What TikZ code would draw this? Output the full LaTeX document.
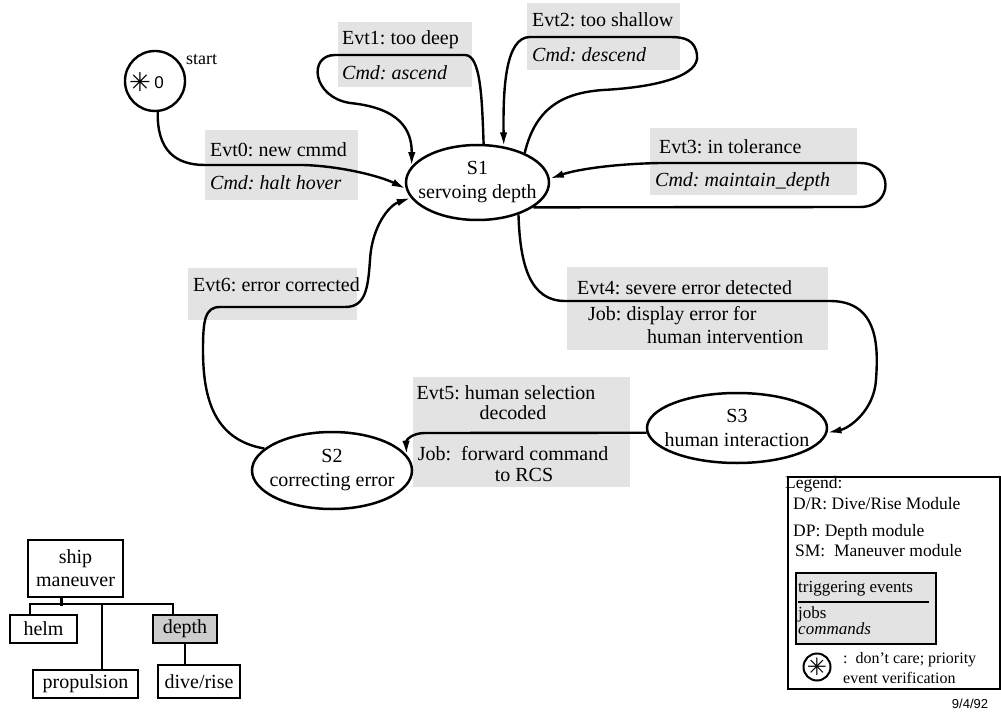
\documentclass[tikz,border=0pt]{standalone}
\usepackage{fontspec}
\setmainfont{Liberation Serif}
\newfontfamily\symfont{DejaVu Sans}
\newfontfamily\datefont{Liberation Sans}
\usetikzlibrary{arrows.meta,shapes.geometric,calc}
\frenchspacing

\begin{document}
\begin{tikzpicture}[x=1pt,y=-1pt,
  state/.style={draw,ellipse,line width=2.5pt,inner sep=0pt},
  conn/.style={line width=2.4pt,-{Latex[length=14pt,width=7.5pt]}},
  wire/.style={line width=2.4pt},
  band/.style={fill=gray!22,draw=none,inner sep=0pt,anchor=north west},
  lbl/.style={font=\fontsize{20}{24}\selectfont,inner sep=0pt},
  lbli/.style={font=\fontsize{20}{24}\selectfont\itshape,inner sep=0pt},
  leg/.style={font=\fontsize{17.5}{20}\selectfont,inner sep=0pt,anchor=west},
  tbox/.style={draw,line width=2.5pt,inner sep=0pt,font=\fontsize{20}{23}\selectfont,align=center},
  star/.style={font=\symfont\fontsize{26}{26}\selectfont,inner sep=0pt}
]
\useasboundingbox (0,0) rectangle (1001,714);

% shaded bands behind the transition labels
\node[band,minimum width=153pt,minimum height=70pt] (b0) at (205,130) {};
\node[band,minimum width=134pt,minimum height=65pt] (b1) at (338,22) {};
\node[band,minimum width=153pt,minimum height=67pt] (b2) at (527,3) {};
\node[band,minimum width=207pt,minimum height=67pt] (b3) at (650,128) {};
\node[band,minimum width=261pt,minimum height=83pt] (b4) at (567,267) {};
\node[band,minimum width=217pt,minimum height=110pt] (b5) at (413,377) {};
\node[band,minimum width=169pt,minimum height=52pt] (b6) at (188,268) {};

% states
\node[draw,circle,line width=2.4pt,minimum size=60pt,inner sep=0pt] (st) at (155,81) {};
\node[star] (stx) at (140,82) {✳};
\node[font=\datefont\fontsize{17}{17}\selectfont,inner sep=0pt] (st0) at (159,83) {0};
\node[font=\fontsize{18}{20}\selectfont,inner sep=0pt,anchor=west] (stl) at (186,60) {start};

\node[state,minimum width=143pt,minimum height=75pt] (S1) at (477.5,182.5) {};
\node[lbl,align=center] (S1t) at (S1.center) {S1\\servoing depth};
\node[state,minimum width=160pt,minimum height=77pt] (S2) at (332,470.5) {};
\node[lbl,align=center] (S2t) at (S2.center) {S2\\correcting error};
\node[state,minimum width=180pt,minimum height=70pt] (S3) at (737,428) {};
\node[lbl,align=center] (S3t) at (S3.center) {S3\\human interaction};

% transition labels
\node[lbl,anchor=west] (e0) at (210,150) {Evt0: new cmmd};
\node[lbli,anchor=west] (c0) at (210,183) {Cmd: halt hover};
\node[lbl,anchor=west] (e1) at (342,40) {Evt1: too deep};
\node[lbli,anchor=west] (c1) at (342,73) {Cmd: ascend};
\node[lbl,anchor=west] (e2) at (532,20) {Evt2: too shallow};
\node[lbli,anchor=west] (c2) at (532,55) {Cmd: descend};
\node[lbl,anchor=west] (e3) at (659,147) {Evt3: in tolerance};
\node[lbli,anchor=west] (c3) at (655,182) {Cmd: maintain\_depth};
\node[lbl,anchor=west] (e4) at (577,288) {Evt4: severe error detected};
\node[lbl,anchor=west] (j4a) at (588,316) {Job: display error for};
\node[lbl,anchor=west] (j4b) at (647,337) {human intervention};
\node[lbl] (e5a) at (506,393) {Evt5: human selection};
\node[lbl] (e5b) at (513,413) {decoded};
\node[lbl] (j5a) at (513,454) {Job:~ forward command};
\node[lbl] (j5b) at (524,475) {to RCS};
\node[lbl,anchor=west] (e6) at (193,285) {Evt6: error corrected};

% transitions
\draw[conn] (st.-85) .. controls (157,150) and (175,165) .. (205,165)
  -- (303,165) .. controls (340,166) and (380,176) .. (S1.185);
\draw[conn] (S1.81) .. controls (482,100) and (481,55) .. (465,55)
  -- (335,55) .. controls (308,55) and (312,97) .. (350,103)
  .. controls (400,108) and (412,130) .. (S1.166);
\draw[conn] (S1.32) .. controls (535,110) and (560,93) .. (603,90)
  .. controls (660,87) and (700,75) .. (697,55)
  .. controls (695,40) and (685,37) .. (670,37)
  -- (530,37) .. controls (505,37) and (503,90) .. (S1.54);
\draw[conn] (S1.-24) -- (860,207) .. controls (894,207) and (894,163) .. (860,163)
  -- (660,163) .. controls (610,164) and (575,170) .. (S1.3);
\draw[conn] (S1.-38) .. controls (520,265) and (530,301) .. (565,301)
  -- (830,301) .. controls (880,301) and (878,350) .. (876,380)
  .. controls (874,410) and (850,428) .. (S3.-3);
\draw[conn] (S3.183) -- (425,433) .. controls (412,433) and (406,440) .. (S2.12);
\draw[conn] (S2.162) .. controls (215,440) and (203,400) .. (203,350)
  .. controls (203,320) and (205,307) .. (220,307)
  -- (345,307) .. controls (365,307) and (368,290) .. (370,260)
  .. controls (372,225) and (390,205) .. (S1.193);

% module tree
\node[tbox,minimum width=95pt,minimum height=57pt] (ship) at (75.5,568.5) {ship\\maneuver};
\node[tbox,minimum width=67pt,minimum height=28pt] (helm) at (43.5,629) {helm};
\node[tbox,minimum width=105pt,minimum height=28pt] (prop) at (85.5,684) {propulsion};
\node[tbox,minimum width=64pt,minimum height=28pt,fill=gray!40] (dep) at (185,629) {depth};
\node[tbox,minimum width=82pt,minimum height=33pt] (dive) at (199,681.5) {dive/rise};
\coordinate (bar) at ($(ship.south)+(-14,8)$);
\draw[wire] ($(ship.south)+(-14,0)$) -- (bar);
\draw[wire] ($(helm.north)+(-13.5,0)$) -- ++(0,-10) -| ($(dep.north)+(-12,0)$);
\draw[wire] ($(prop.north)+(16.5,0)$) -- ++(0,-65);
\draw[wire] (dep.south) -- (dep.south |- dive.north);

% legend
\node[draw,line width=2.4pt,inner sep=0pt,anchor=north west,minimum width=212pt,minimum height=212pt] (lg) at (787,476) {};
\node[leg] (lg0) at (785,484) {Legend:};
\node[leg] (lg1) at (793,504) {D/R: Dive/Rise Module};
\node[leg] (lg2) at (793,532) {DP: Depth module};
\node[leg] (lg3) at (795,551) {SM:~ Maneuver module};
\node[draw,line width=2.2pt,fill=gray!22,inner sep=0pt,anchor=north west,minimum width=140pt,minimum height=71pt] (lgi) at (795,572) {};
\node[leg,font=\fontsize{17}{19}\selectfont] (lgt) at (798,589) {triggering events};
\draw[line width=2pt] ($(lgi.north west)+(3,30)$) -- ($(lgi.north east)+(-8,30)$);
\node[leg,font=\fontsize{17}{19}\selectfont] (lgj) at (798,614) {jobs};
\node[leg,font=\fontsize{17}{19}\selectfont\itshape] (lgc) at (798,629) {commands};
\node[draw,circle,line width=2pt,minimum size=27pt,inner sep=0pt] (lgs) at (817,667) {};
\node[star,font=\symfont\fontsize{24}{24}\selectfont] (lgsx) at (lgs.center) {✳};
\node[leg,font=\fontsize{16}{18}\selectfont] (lgd1) at (843,660) {:~ don't care; priority};
\node[leg,font=\fontsize{16}{18}\selectfont] (lgd2) at (843,678) {event verification};

\node[font=\datefont\fontsize{13}{15}\selectfont,inner sep=0pt] (date) at (970,704) {9/4/92};
\end{tikzpicture}
\end{document}
